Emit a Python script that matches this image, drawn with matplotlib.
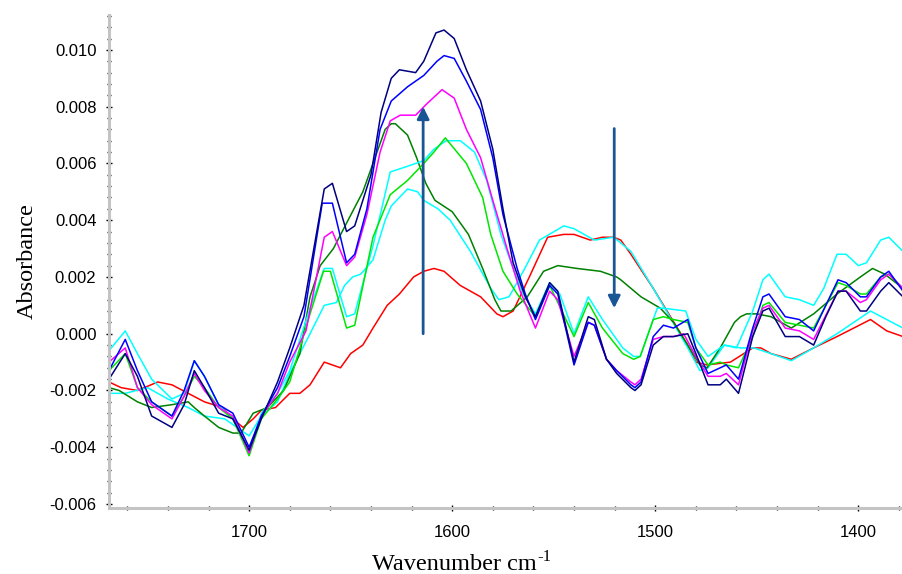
import matplotlib
matplotlib.use("Agg")
import matplotlib.pyplot as plt
from matplotlib.ticker import MultipleLocator, FuncFormatter

# ---------------- data (wavenumber, absorbance) ----------------
navy_x = [1769, 1761, 1755, 1748, 1738, 1732, 1727, 1722, 1715, 1708, 1700, 1694, 1686, 1680, 1673,
          1663, 1659, 1652, 1648, 1640, 1635, 1630, 1626, 1618, 1614, 1608, 1604, 1599, 1593, 1586,
          1580, 1575, 1570, 1564, 1559, 1552, 1548, 1540, 1533, 1530, 1524, 1519, 1512, 1510, 1507,
          1501, 1496, 1491, 1484, 1480, 1474, 1468, 1465, 1459, 1452, 1447, 1444, 1436, 1429, 1422,
          1416, 1410, 1406, 1399, 1396, 1389, 1385, 1378]
navy_y = [-0.0016, -0.0007, -0.0015, -0.0029, -0.0033, -0.0025, -0.0013, -0.0019, -0.0028, -0.0030,
          -0.0041, -0.0030, -0.0017, -0.0005, 0.0010, 0.0051, 0.0053, 0.0036, 0.0038, 0.0056, 0.0078,
          0.0090, 0.0093, 0.0092, 0.0096, 0.0106, 0.0107, 0.0104, 0.0093, 0.0082, 0.0065, 0.0044,
          0.0025, 0.0013, 0.0006, 0.0018, 0.0015, -0.0010, 0.0006, 0.0005, -0.0009, -0.0014, -0.0019,
          -0.0020, -0.0018, -0.0004, -0.0001, -0.0001, 0.0000, -0.0007, -0.0018, -0.0018, -0.0016,
          -0.0021, -0.0001, 0.0008, 0.0009, -0.0001, -0.0001, -0.0004, 0.0006, 0.0015, 0.0015, 0.0008,
          0.0008, 0.0015, 0.0018, 0.0013]

blue_x = [1769, 1761, 1755, 1748, 1738, 1732, 1727, 1722, 1715, 1708, 1700, 1694, 1686, 1680, 1673,
          1664, 1659, 1652, 1648, 1642, 1635.5, 1630, 1622, 1614, 1607.5, 1604, 1599, 1593, 1586, 1580,
          1575, 1568, 1564, 1559, 1552, 1548, 1540, 1533, 1530, 1524, 1519, 1512, 1510, 1507, 1501,
          1496, 1491, 1484, 1480, 1474, 1468, 1465, 1459, 1452, 1447, 1444, 1436, 1429, 1422, 1416,
          1410, 1406, 1399, 1396, 1389, 1385, 1378]
blue_y = [-0.0013, -0.0002, -0.0013, -0.0024, -0.0029, -0.0020, -0.00095, -0.0015, -0.0025, -0.0028,
          -0.0040, -0.0029, -0.0019, -0.0008, 0.0006, 0.0046, 0.0046, 0.0025, 0.0028, 0.0044, 0.0072,
          0.0082, 0.0087, 0.0091, 0.0096, 0.0098, 0.0097, 0.0089, 0.0079, 0.0062, 0.0042, 0.0023,
          0.0014, 0.0005, 0.0017, 0.0014, -0.0011, 0.0004, 0.0003, -0.0009, -0.0013, -0.0018, -0.0019,
          -0.0017, -0.0001, 0.0003, 0.0002, 0.0005, -0.0005, -0.0014, -0.0012, -0.0011, -0.0016, 0.0002,
          0.0013, 0.0014, 0.0006, 0.0005, 0.0001, 0.0010, 0.0019, 0.0018, 0.0013, 0.0013, 0.0020,
          0.0022, 0.0015]

magenta_x = [1769, 1761, 1755, 1748, 1738, 1732, 1727, 1722, 1715, 1708, 1700, 1694, 1686, 1680, 1672,
             1663, 1659, 1652, 1648, 1642, 1635.5, 1630.5, 1625.6, 1618, 1612.5, 1605, 1599, 1593, 1586,
             1580, 1573, 1566.5, 1559, 1552, 1548, 1540, 1533, 1530, 1524, 1519, 1512, 1510, 1507, 1501,
             1496, 1491, 1486, 1480, 1474, 1468, 1465, 1459, 1452, 1447, 1444, 1436, 1429, 1422, 1410,
             1406, 1399, 1396, 1389, 1385, 1378]
magenta_y = [-0.0010, -0.0005, -0.0019, -0.0025, -0.0030, -0.0022, -0.0014, -0.0020, -0.0026, -0.0029,
             -0.0042, -0.0029, -0.0021, -0.0010, 0.0001, 0.0034, 0.0036, 0.0024, 0.0027, 0.0042, 0.0064,
             0.0075, 0.0077, 0.0077, 0.0081, 0.0086, 0.0083, 0.0072, 0.0062, 0.0047, 0.0030, 0.0015,
             0.0002, 0.0015, 0.0012, -0.0008, 0.0004, 0.0003, -0.0009, -0.0013, -0.0017, -0.0018,
             -0.0016, -0.0002, -0.0001, -0.0001, 0.0000, -0.0008, -0.0015, -0.0015, -0.0014, -0.0018,
             0.0001, 0.0009, 0.0010, 0.0002, 0.0001, -0.0002, 0.0015, 0.0015, 0.0011, 0.0012, 0.0019,
             0.0021, 0.0016]

lime_x = [1769, 1761, 1755, 1748, 1738, 1732, 1727, 1722, 1715, 1708, 1700, 1694, 1686, 1680, 1670,
          1663.4, 1660, 1652, 1648, 1639, 1630.5, 1622, 1614, 1609, 1603.4, 1593, 1585, 1581, 1575, 1568,
          1559, 1552, 1540, 1533, 1526, 1516, 1510.6, 1507.4, 1501, 1496, 1491, 1484, 1480, 1474, 1468,
          1465, 1459, 1452, 1447, 1444, 1436, 1429, 1422, 1410, 1406, 1399, 1396, 1389, 1385, 1378]
lime_y = [-0.0013, -0.0007, -0.0019, -0.0024, -0.0029, -0.0022, -0.0015, -0.0019, -0.0026, -0.0030,
          -0.0043, -0.0030, -0.0023, -0.0017, 0.0007, 0.0022, 0.0022, 0.0002, 0.0003, 0.0034, 0.0049,
          0.0054, 0.0060, 0.0064, 0.0069, 0.0060, 0.0048, 0.0035, 0.0022, 0.0014, 0.0006, 0.0017,
          -0.0001, 0.0011, 0.0002, -0.0007, -0.0009, -0.0008, 0.0005, 0.0006, 0.0005, 0.0004, -0.0005,
          -0.0011, -0.0010, -0.0011, -0.0012, -0.0001, 0.0010, 0.0011, 0.0004, 0.0003, 0.0002, 0.0018,
          0.0017, 0.0014, 0.0014, 0.0020, 0.0021, 0.0016]

cyan1_x = [1769, 1761, 1755, 1748, 1738, 1732, 1727, 1722, 1715, 1708, 1700, 1694, 1686, 1680, 1670,
           1663, 1659, 1652, 1648, 1639, 1630.5, 1622, 1614, 1609, 1603, 1596, 1589, 1583, 1576, 1570,
           1565, 1559, 1552, 1547, 1540, 1533, 1526, 1516, 1510.6, 1507.4, 1499, 1496, 1485, 1480, 1474,
           1466, 1460, 1452, 1447, 1444, 1436, 1429, 1422, 1417, 1410.5, 1406, 1400, 1396, 1389, 1385,
           1378]
cyan1_y = [-0.0006, 0.0001, -0.0007, -0.0016, -0.0023, -0.0021, -0.00095, -0.0015, -0.0025, -0.0030,
           -0.0042, -0.0028, -0.0021, -0.0013, 0.0009, 0.0023, 0.0023, 0.0006, 0.0007, 0.0031, 0.0057,
           0.0059, 0.0061, 0.0065, 0.0068, 0.0068, 0.0064, 0.0054, 0.0035, 0.0023, 0.0014, 0.0007,
           0.0018, 0.0014, 0.0000, 0.0013, 0.0005, -0.0005, -0.0008, -0.0008, 0.0009, 0.0009, 0.0008,
           -0.0002, -0.0008, -0.0004, -0.0005, 0.0008, 0.0019, 0.0021, 0.0013, 0.0012, 0.0010, 0.0016,
           0.0028, 0.0028, 0.0024, 0.0025, 0.0033, 0.0034, 0.0029]

cyan2_x = [1769, 1761, 1750, 1740, 1730, 1722, 1712, 1706, 1700, 1694, 1686, 1680, 1670, 1663, 1657,
           1653, 1649, 1645, 1639, 1633, 1630, 1622, 1617, 1614, 1607, 1601, 1591, 1581, 1577, 1572,
           1565, 1557, 1545, 1540, 1530, 1520.5, 1517, 1512, 1501, 1484, 1478, 1474, 1466, 1458, 1451.5,
           1443, 1433, 1422, 1410.5, 1394, 1378]
cyan2_y = [-0.0021, -0.0021, -0.0019, -0.0023, -0.0026, -0.0029, -0.0030, -0.0033, -0.0036, -0.0029,
           -0.0024, -0.0014, 0.0000, 0.0010, 0.0011, 0.0017, 0.0020, 0.0021, 0.0026, 0.0040, 0.0045,
           0.0051, 0.0050, 0.0047, 0.0044, 0.0040, 0.0029, 0.0016, 0.0012, 0.0013, 0.0022, 0.0033,
           0.0038, 0.0037, 0.0033, 0.0034, 0.0032, 0.0029, 0.0016, -0.0005, -0.0013, -0.0012, -0.0004,
           -0.0005, -0.0005, -0.0007, -0.00095, -0.0005, 0.0000, 0.0008, 0.0002]

dkgreen_x = [1769, 1764, 1755, 1748, 1738, 1730, 1727, 1722, 1715, 1708, 1704, 1698, 1691, 1683, 1675,
             1670, 1665, 1658.5, 1652, 1644, 1637, 1633, 1630, 1628, 1622, 1617.5, 1613, 1608.5, 1600,
             1592, 1585, 1579, 1576, 1571, 1563, 1555, 1548, 1538.5, 1527, 1519, 1517, 1507, 1497.5,
             1491, 1484, 1478, 1474.5, 1468, 1461, 1458, 1455, 1450, 1443, 1433, 1422, 1410.5, 1399,
             1393, 1387, 1378]
dkgreen_y = [-0.0019, -0.0020, -0.0024, -0.0026, -0.0025, -0.0024, -0.0026, -0.0029, -0.0033, -0.0035,
             -0.0035, -0.0028, -0.0026, -0.0020, -0.0007, 0.0013, 0.0024, 0.0030, 0.0039, 0.0050,
             0.0064, 0.0072, 0.0074, 0.0074, 0.0070, 0.0062, 0.0053, 0.0047, 0.0043, 0.0035, 0.0023,
             0.0012, 0.0008, 0.0008, 0.0013, 0.0022, 0.0024, 0.0023, 0.0022, 0.0020, 0.0019, 0.0013,
             0.0009, 0.0004, -0.0004, -0.0011, -0.0012, -0.0005, 0.0004, 0.0006, 0.0007, 0.0007, 0.0006,
             0.0002, 0.0007, 0.0014, 0.0020, 0.0023, 0.0021, 0.0016]

red_x = [1769, 1763, 1755, 1745, 1738, 1730, 1722, 1713, 1708, 1703, 1698, 1694, 1687, 1680, 1675,
         1670, 1663, 1659, 1655, 1650, 1644, 1639, 1632, 1626, 1619, 1614, 1609, 1604, 1596, 1591,
         1586, 1578, 1575, 1570, 1562, 1553, 1545, 1540, 1532, 1526, 1520.5, 1517, 1512, 1501, 1484,
         1480, 1474.5, 1463, 1452, 1448, 1443, 1433, 1422, 1410.5, 1394, 1386, 1378]
red_y = [-0.0017, -0.0019, -0.0020, -0.0017, -0.0018, -0.0021, -0.0024, -0.0026, -0.0030, -0.0033,
         -0.0030, -0.0027, -0.0026, -0.0021, -0.0021, -0.0018, -0.0010, -0.0011, -0.0012, -0.0007,
         -0.0004, 0.0002, 0.0010, 0.0014, 0.0020, 0.0022, 0.0023, 0.0022, 0.0017, 0.0015, 0.0013,
         0.0007, 0.0006, 0.0008, 0.0020, 0.0034, 0.0035, 0.0035, 0.0033, 0.0034, 0.0034, 0.0033,
         0.0028, 0.0016, -0.0004, -0.0010, -0.0011, -0.0010, -0.0005, -0.0005, -0.0007, -0.0009,
         -0.0005, -0.0001, 0.0005, 0.0001, -0.0001]

series = [
    (red_x, red_y, "#ff0000"),
    (cyan2_x, cyan2_y, "#00ffff"),
    (dkgreen_x, dkgreen_y, "#008000"),
    (cyan1_x, cyan1_y, "#00ffff"),
    (lime_x, lime_y, "#00e600"),
    (magenta_x, magenta_y, "#ff00ff"),
    (blue_x, blue_y, "#0000ff"),
    (navy_x, navy_y, "#000080"),
]

# ---------------- figure ----------------
W, H = 903, 574
fig = plt.figure(figsize=(W / 100, H / 100), dpi=100)
ax = fig.add_axes([109 / W, 1 - 508 / H, 794 / W, (508 - 15) / H])

for xs, ys, c in series:
    ax.plot(xs, ys, color=c, lw=1.1)

ax.set_xlim(1769, 1378)
ax.set_ylim(-0.00614, 0.01123)

arrow_c = "#1b5694"
ax.annotate("", xy=(1614.3, 0.0080), xytext=(1614.3, 0.0),
            arrowprops=dict(arrowstyle="-|>", color=arrow_c, lw=2, mutation_scale=18,
                            shrinkA=0, shrinkB=0))
ax.annotate("", xy=(1520.2, 0.0009), xytext=(1520.2, 0.00723),
            arrowprops=dict(arrowstyle="-|>", color=arrow_c, lw=2, mutation_scale=18,
                            shrinkA=0, shrinkB=0))

for s in ["top", "right"]:
    ax.spines[s].set_visible(False)
for s in ["left", "bottom"]:
    ax.spines[s].set_color("#c4c4c4")
    ax.spines[s].set_linewidth(2.2)

ax.xaxis.set_major_locator(MultipleLocator(100))
ax.xaxis.set_minor_locator(MultipleLocator(20))
ax.yaxis.set_major_locator(MultipleLocator(0.002))
ax.yaxis.set_minor_locator(MultipleLocator(0.0004))
ax.yaxis.set_major_formatter(FuncFormatter(lambda v, p: f"{v:.3f}"))
ax.xaxis.set_major_formatter(FuncFormatter(lambda v, p: f"{v:.0f}"))

ax.tick_params(axis="both", which="both", direction="inout", color="black", width=1)
ax.tick_params(axis="both", which="major", length=4, labelsize=12)
ax.tick_params(axis="both", which="minor", length=3)
ax.tick_params(axis="x", which="major", pad=10)
ax.tick_params(axis="y", which="major", pad=7)
for lab in ax.get_xticklabels() + ax.get_yticklabels():
    lab.set_fontfamily("Liberation Sans")

ax.set_ylabel("Absorbance", family="Liberation Serif", fontsize=17.5, labelpad=8)

# x label: "Wavenumber cm" with superscript "-1"
xl = fig.text(372 / W, 1 - 570 / H, "Wavenumber cm", family="Liberation Serif",
              fontsize=17.5, ha="left", va="baseline")
fig.canvas.draw()
bb = xl.get_window_extent(renderer=fig.canvas.get_renderer())
fig.text(bb.x1 / W + 1 / W, 1 - 561 / H, "-1", family="Liberation Serif",
         fontsize=12, ha="left", va="baseline")

fig.savefig("out.png", dpi=100)
